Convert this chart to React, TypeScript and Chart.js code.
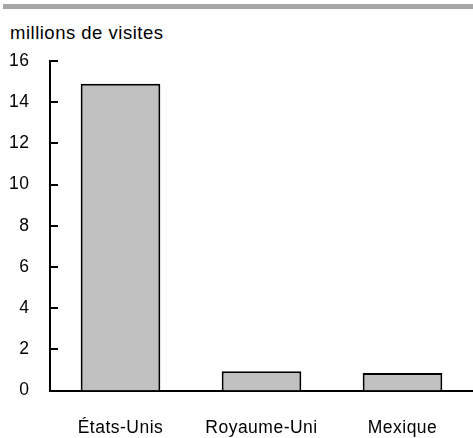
import React, { useEffect, useRef } from "react";
import { Chart, registerables } from "chart.js";

Chart.register(...registerables);

const categories = ["États-Unis", "Royaume-Uni", "Mexique"];
const visits = [14.9, 0.93, 0.85];
const yTicks = [0, 2, 4, 6, 8, 10, 12, 14, 16];
const yTitle = "millions de visites";

const FONT = "'Liberation Sans', Arial, sans-serif";
const SPACING = "0.5px";

const spacingPlugin = {
  id: "spacing",
  beforeLayout(chart: any) {
    chart.ctx.letterSpacing = SPACING;
  },
  beforeDraw(chart: any) {
    chart.ctx.letterSpacing = SPACING;
  },
};

const innerTicks = {
  id: "innerTicks",
  afterDatasetsDraw(chart: any) {
    const { ctx, chartArea, scales } = chart;
    const y = scales.y;
    ctx.save();
    ctx.strokeStyle = "#000";
    ctx.lineWidth = 2;
    yTicks.forEach((v) => {
      const py = Math.round(y.getPixelForValue(v));
      ctx.beginPath();
      ctx.moveTo(chartArea.left, py);
      ctx.lineTo(chartArea.left + 8, py);
      ctx.stroke();
    });
    ctx.restore();
  },
};

export default function App() {
  const ref = useRef<HTMLCanvasElement>(null);
  useEffect(() => {
    const chart = new Chart(ref.current!, {
      type: "bar",
      data: {
        labels: categories,
        datasets: [
          {
            data: visits,
            backgroundColor: "#c0c0c0",
            borderColor: "#000",
            borderWidth: 2,
            barPercentage: 0.565,
            categoryPercentage: 1,
          },
        ],
      },
      options: {
        animation: false,
        responsive: false,
        layout: { padding: { top: 61, left: 0, right: 0, bottom: 0 } },
        plugins: { legend: { display: false }, tooltip: { enabled: false } },
        scales: {
          x: {
            grid: { display: false, drawTicks: false },
            border: { display: true, color: "#000", width: 2 },
            ticks: { color: "#000", font: { family: FONT, size: 17.5 }, padding: 27 },
            afterFit: (s: any) => {
              s.height = 47.5;
            },
          },
          y: {
            min: 0,
            max: 16,
            afterBuildTicks: (s: any) => {
              s.ticks = yTicks.map((v) => ({ value: v }));
            },
            grid: { display: false, drawTicks: false },
            border: { display: true, color: "#000", width: 2 },
            ticks: { color: "#000", font: { family: FONT, size: 17.5 }, padding: 20.5 },
            afterFit: (s: any) => {
              s.width = 50;
            },
          },
        },
      },
      plugins: [spacingPlugin, innerTicks],
    });
    return () => chart.destroy();
  }, []);
  return (
    <div style={{ position: "fixed", left: 0, top: 0, width: 473, height: 438, background: "#fff" }}>
      <div style={{ position: "absolute", left: 3, top: 4, width: 470, height: 5, background: "#a6a6a6" }} />
      <div
        style={{
          position: "absolute",
          left: 10,
          top: 23,
          fontFamily: FONT,
          fontSize: 18.5,
          letterSpacing: SPACING,
          lineHeight: "20px",
          color: "#000",
          whiteSpace: "nowrap",
        }}
      >
        {yTitle}
      </div>
      <canvas ref={ref} width={473} height={438} style={{ position: "absolute", left: 0, top: 0 }} />
    </div>
  );
}
